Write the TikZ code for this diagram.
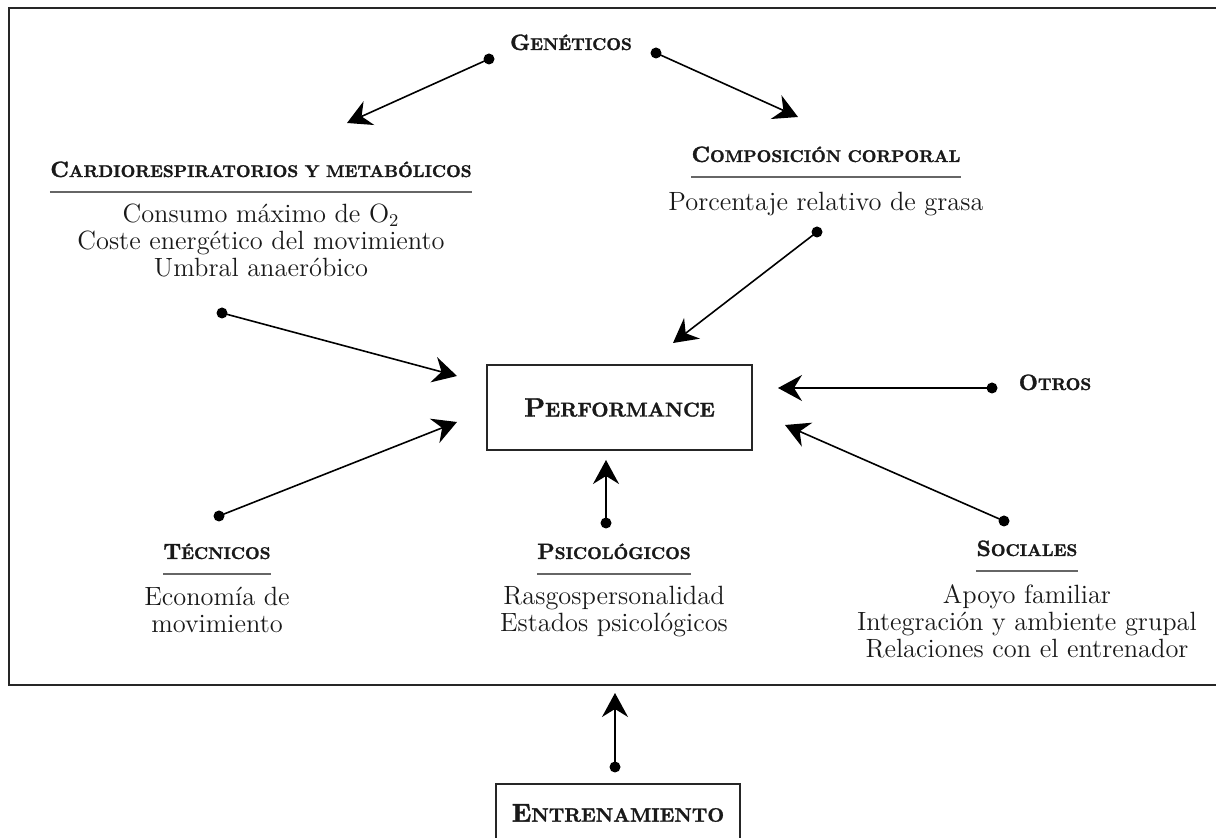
\documentclass[tikz,border=0pt]{standalone}
\usepackage{fontspec}
\usetikzlibrary{arrows.meta,calc,positioning}
\newfontfamily\titlefont{lmroman10-bold}[Extension=.otf,FakeBold=1.5]
\newcommand{\scword}[3]{{\titlefont #2{\fontsize{#1}{#1}\selectfont #3}}}

\begin{document}
\begin{tikzpicture}[x=0.5pt,y=-0.5pt]

\tikzset{titlenode/.style={font=\fontsize{11.1}{13}\selectfont,inner sep=0pt,anchor=base,text=black!90},
bodynode/.style={font=\fontsize{13.2}{13.5}\selectfont,inner sep=0pt,anchor=base,align=center,text=black!90},
dotnode/.style={circle,fill=black,inner sep=0pt,minimum size=5.5pt},
boxnode/.style={draw=black!85,line width=1.2pt,text=black!90},
arrowline/.style={line width=0.8pt,-{Stealth[length=12pt,width=13pt,inset=4pt]}},
rule/.style={draw=black!60,line width=0.6pt}}

\useasboundingbox (0,0) rectangle (1216,838);

% Frame
\draw[line width=1.4pt,black!85] (1230,8) -- (9,8) -- (9,685) -- (1230,685);

% Boxes
\node[boxnode,minimum width=132.5pt,minimum height=42.5pt] (perf) at (619.5,407.5) {\fontsize{13.3}{15}\selectfont\scword{10}{P}{ERFORMANCE}};
\node[boxnode,minimum width=122pt,minimum height=29pt] (entr) at (618,813) {\fontsize{12.9}{15}\selectfont\scword{9.7}{E}{NTRENAMIENTO}};

% Titles
\node[titlenode] (gen) at (571,50) {\scword{8.5}{G}{ENÉTICOS}};
\node[titlenode] (cardio) at (261,177) {\scword{8.5}{C}{ARDIORESPIRATORIOS Y METABÓLICOS}};
\node[titlenode] (comp) at (826,162) {\scword{8.5}{C}{OMPOSICIÓN CORPORAL}};
\node[titlenode] (otros) at (1055,390) {\scword{8.5}{O}{TROS}};
\node[titlenode] (tec) at (217,559) {\scword{8.5}{T}{ÉCNICOS}};
\node[titlenode] (psic) at (614,559) {\scword{8.5}{P}{SICOLÓGICOS}};
\node[titlenode] (soc) at (1027,556) {\scword{8.5}{S}{OCIALES}};

% Underlines
\foreach \t in {cardio,comp,tec,psic,soc} \draw[rule] ($(\t.base west)+(0,15)$) -- ($(\t.base east)+(0,15)$);

% Lists (base = last line)
\node[bodynode] (cardiol) at (261,277) {Consumo máximo de O$_2$\\Coste energético del movimiento\\Umbral anaeróbico};
\node[bodynode] (compl) at (826,211) {Porcentaje relativo de grasa};
\node[bodynode] (tecl) at (217,633) {Economía de\\movimiento};
\node[bodynode] (psicl) at (614,632) {Rasgospersonalidad\\Estados psicológicos};
\node[bodynode] (socl) at (1027,658) {Apoyo familiar\\Integración y ambiente grupal\\Relaciones con el entrenador};

% Dots and arrow tips
\node[dotnode] (gendl) at (489,59) {}; \coordinate (gentl) at (347,123);
\node[dotnode] (gendr) at (656,53) {}; \coordinate (gentr) at (798,117);
\node[dotnode] (compd) at (817,232) {}; \coordinate (compt) at (673,343);
\node[dotnode] (cardiod) at (222,313) {}; \coordinate (cardiot) at (457,376);
\node[dotnode] (tecd) at (219,516) {}; \coordinate (tect) at (457,422);
\node[dotnode] (psicd) at (606,523) {}; \coordinate (psict) at (606,460);
\node[dotnode] (otrosd) at (992,388) {}; \coordinate (otrost) at (778,388);
\node[dotnode] (socd) at (1004,521) {}; \coordinate (soct) at (785,425);
\node[dotnode] (entrd) at (615,767) {}; \coordinate (entrt) at (615,693);

% Arrows
\foreach \a/\b in {gendl/gentl,gendr/gentr,compd/compt,cardiod/cardiot,tecd/tect,psicd/psict,otrosd/otrost,socd/soct,entrd/entrt} \draw[arrowline] (\a.center) -- (\b);

\end{tikzpicture}
\end{document}
